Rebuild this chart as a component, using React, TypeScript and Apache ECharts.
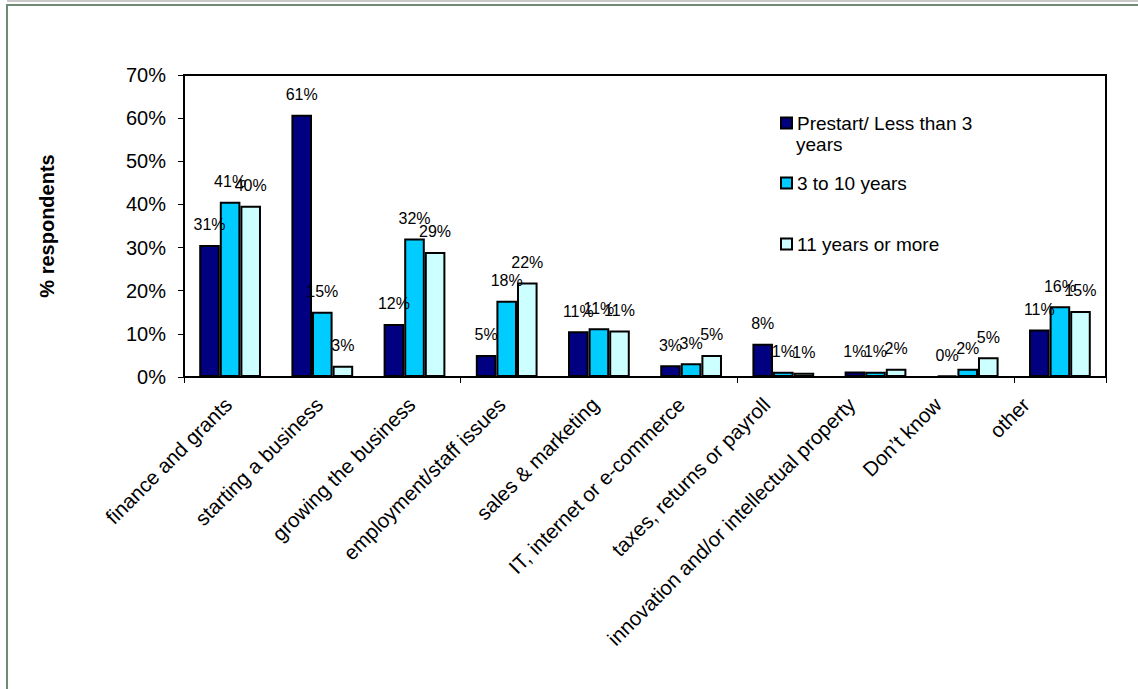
import React, { useEffect, useRef } from "react";
import * as echarts from "echarts";

const categories = [
  "finance and grants",
  "starting a business",
  "growing the business",
  "employment/staff issues",
  "sales & marketing",
  "IT, internet or e-commerce",
  "taxes, returns or payroll",
  "innovation and/or intellectual property",
  "Don’t know",
  "other",
];

const seriesNames = ["Prestart/ Less than 3 years", "3 to 10 years", "11 years or more"];

const prestart = [30.6, 60.8, 12.3, 5.1, 10.6, 2.7, 7.7, 1.3, 0.4, 11.0];
const threeToTen = [40.6, 15.1, 32.1, 17.7, 11.3, 3.2, 1.2, 1.2, 1.9, 16.4];
const elevenPlus = [39.7, 2.6, 29.0, 21.9, 10.8, 5.1, 1.0, 1.9, 4.6, 15.3];

const yTicks = [0, 10, 20, 30, 40, 50, 60, 70];

// horizontal shift (px) of each rotated category label's end from its category centre
const labelShift = [-2, -3, -3, -5, -4, -10, -17, -24, -30, -34];

const colors = ["#000080", "#00CCFF", "#CCFFFF"];
const FONT = "Liberation Sans, Arial, sans-serif";

export default function App() {
  const ref = useRef<HTMLDivElement>(null);

  useEffect(() => {
    if (!ref.current) return;
    const chart = echarts.init(ref.current, undefined, { renderer: "svg" });
    const values = [prestart, threeToTen, elevenPlus];
    const legendTops = [112, 172, 233];

    const baseGraphics: any[] = [
      { id: "strip", type: "rect", shape: { x: 7, y: 0, width: 1131, height: 2 }, style: { fill: "#c8c8c8" }, silent: true },
      { id: "bTop", type: "rect", shape: { x: 6, y: 4, width: 1132, height: 2 }, style: { fill: "#6f8b75" }, silent: true },
      { id: "bLeft", type: "rect", shape: { x: 6, y: 4, width: 2, height: 685 }, style: { fill: "#6f8b75" }, silent: true },
      {
        id: "years",
        type: "text",
        left: 796,
        top: 135,
        style: { text: "years", fontFamily: FONT, fontSize: 19, fill: "#000" },
        silent: true,
      },
    ];

    chart.setOption({
      animation: false,
      backgroundColor: "#ffffff",
      textStyle: { fontFamily: FONT },
      grid: {
        left: 184,
        right: 32,
        top: 75,
        bottom: 312,
        show: true,
        borderColor: "#000",
        borderWidth: 2,
        backgroundColor: "transparent",
      },
      legend: seriesNames.map((n, i) => ({
        data: [n],
        left: 780,
        top: legendTops[i],
        orient: "vertical",
        padding: 0,
        itemWidth: 11,
        itemHeight: 11,
        icon: "rect",
        selectedMode: false,
        formatter: (name: string) => (name === seriesNames[0] ? "Prestart/ Less than 3" : name),
        textStyle: { fontFamily: FONT, fontSize: 19, color: "#000", lineHeight: 22 },
      })),
      xAxis: {
        type: "category",
        data: categories,
        boundaryGap: true,
        axisLine: { show: true, lineStyle: { color: "#000", width: 2 } },
        axisTick: { show: true, alignWithLabel: false, length: 6, lineStyle: { color: "#000", width: 1 } },
        axisLabel: { show: false },
      },
      yAxis: {
        type: "value",
        min: 0,
        max: 70,
        interval: 10,
        name: "% respondents",
        nameLocation: "middle",
        nameGap: 127,
        nameTextStyle: { fontFamily: FONT, fontSize: 20, fontWeight: "bold", color: "#000" },
        splitLine: { show: false },
        axisLine: { show: true, lineStyle: { color: "#000", width: 2 } },
        axisTick: { show: true, inside: false, length: 6, lineStyle: { color: "#000", width: 1 } },
        axisLabel: {
          margin: 18,
          fontFamily: FONT,
          fontSize: 20,
          color: "#000",
          formatter: (v: number) => (yTicks.includes(v) ? v + "%" : ""),
        },
      },
      graphic: baseGraphics,
      series: seriesNames.map((n, i) => ({
        name: n,
        type: "bar",
        data: values[i],
        barGap: "0%",
        barCategoryGap: "33%",
        itemStyle: { color: colors[i], borderColor: "#000", borderWidth: 2 },
        label: {
          show: true,
          position: "top",
          distance: 12,
          fontFamily: FONT,
          fontSize: 16,
          color: "#000",
          formatter: (p: any) => Math.round(p.value) + "%",
        },
      })),
    });

    // category labels, placed from the axis scale
    const axisY = chart.convertToPixel({ yAxisIndex: 0 }, 0) as number;
    const labelGraphics = categories.map((c, i) => {
      const cx = chart.convertToPixel({ xAxisIndex: 0 }, c) as number;
      return {
        id: "cat" + i,
        type: "text",
        x: cx + labelShift[i],
        y: axisY + 24,
        rotation: Math.PI / 4,
        silent: true,
        style: {
          text: c,
          fontFamily: FONT,
          fontSize: 20.5,
          fill: "#000",
          align: "right",
          verticalAlign: "middle",
        },
      };
    });
    chart.setOption({ graphic: [...baseGraphics, ...labelGraphics] });

    return () => chart.dispose();
  }, []);

  return (
    <div
      ref={ref}
      style={{ position: "fixed", left: 0, top: 0, width: 1138, height: 689, background: "#fff" }}
    />
  );
}
